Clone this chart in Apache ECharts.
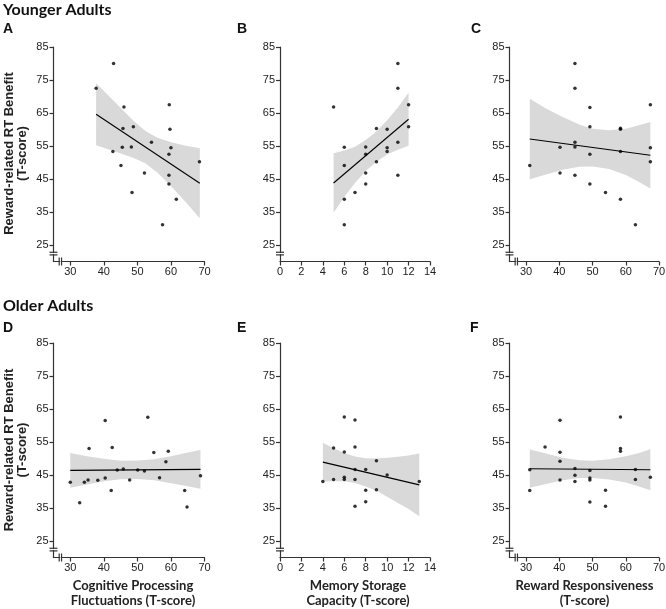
<!DOCTYPE html>
<html><head><meta charset="utf-8">
<script src="https://cdn.jsdelivr.net/npm/echarts@6/dist/echarts.min.js"></script>
<style>html,body{margin:0;padding:0;background:#fff}#c{width:666px;height:609px}</style>
</head><body><div id="c"></div>
<script>
// ---------- tick labels ----------
const yTicks = [25, 35, 45, 55, 65, 75, 85];
const tTicks = [30, 40, 50, 60, 70];
const mTicks = [0, 2, 4, 6, 8, 10, 12, 14];

// ---------- titles ----------
const groupTitles = ['Younger Adults', 'Older Adults'];
const panelLetters = ['A', 'B', 'C', 'D', 'E', 'F'];
const yTitle = 'Reward-related RT Benefit\n(T-score)';
const xTitles = ['Cognitive Processing\nFluctuations (T-score)', 'Memory Storage\nCapacity (T-score)', 'Reward Responsiveness\n(T-score)'];

// ---------- data: points [x, y] ----------
const ptsA = [[37.7,72.5],[42.9,80.0],[46.0,66.8],[45.7,60.3],[48.8,60.8],[42.7,53.3],[45.5,54.6],[48.2,54.7],[45.1,49.1],[48.4,40.9],[52.1,46.8],[54.2,56.1],[59.5,67.5],[59.7,60.1],[60.0,54.5],[59.4,52.5],[59.4,46.1],[59.4,43.5],[61.6,38.9],[57.5,31.1],[68.5,50.2]];
const ptsB = [[5,66.8],[6,54.6],[6,49.1],[6,38.9],[6,31.1],[7,40.9],[8,54.7],[8,52.5],[8,46.8],[8,43.5],[9,60.3],[9,50.2],[10,60.1],[10,54.5],[10,53.3],[11,80.0],[11,72.5],[11,56.1],[11,46.1],[12,67.5],[12,60.8]];
const ptsC = [[31.1,49.1],[40.2,54.6],[40.2,46.8],[44.7,80.0],[44.7,72.5],[44.7,56.1],[44.7,54.7],[44.7,46.1],[49.2,66.7],[49.2,60.8],[49.2,52.5],[49.2,43.5],[53.9,40.9],[58.4,60.4],[58.4,60.1],[58.4,53.3],[58.4,38.9],[62.9,31.1],[67.4,67.5],[67.4,54.5],[67.4,50.2]];
const ptsD = [[30.0,42.8],[32.8,36.6],[34.2,42.8],[35.3,43.5],[35.6,53.0],[38.2,43.4],[40.4,61.5],[40.4,44.1],[42.2,40.3],[42.5,53.3],[44.0,46.5],[45.8,46.8],[47.7,43.5],[50.1,46.5],[52.1,46.2],[53.1,62.5],[54.9,51.8],[56.6,44.2],[58.5,49.0],[59.2,52.2],[64.1,40.3],[64.8,35.3],[68.8,44.8]];
const ptsE = [[4,43.0],[5,53.2],[5,43.6],[6,62.6],[6,52.0],[6,44.3],[6,43.6],[7,61.7],[7,53.5],[7,46.7],[7,43.6],[7,35.5],[8,46.7],[8,40.4],[8,36.9],[9,49.3],[9,40.5],[10,45.0],[13,43.0]];
const ptsF = [[31.1,46.6],[31.1,40.3],[35.7,53.5],[40.2,61.6],[40.2,51.9],[40.2,49.2],[40.2,43.5],[44.7,47.0],[44.7,44.9],[44.7,43.0],[49.2,46.4],[49.2,44.1],[49.2,43.5],[49.2,36.8],[53.9,40.4],[53.9,35.5],[58.4,62.6],[58.4,53.0],[58.4,52.2],[62.9,46.7],[62.9,43.6],[67.4,44.3]];

// ---------- regression line end points ----------
const lineA = [[37.7,64.6],[68.6,43.7]];
const lineB = [[5,43.8],[12,63.1]];
const lineC = [[31.1,57.1],[67.4,52.2]];
const lineD = [[30,46.4],[68.8,46.7]];
const lineE = [[4,48.9],[13,42.0]];
const lineF = [[31.1,46.9],[67.4,46.6]];

// ---------- confidence bands [x, upper, lower] ----------
const bandA = [[37.7,74.0,55.2],[42.9,68.7,53.5],[48.9,62.6,51.4],[52.5,59.5,49.7],[56,57.5,46.9],[60,56.1,42.9],[64.8,55.0,37.6],[68.6,54.3,33.1]];
const bandB = [[5,52.8,34.8],[6,53.6,39.6],[7,54.8,43.8],[8,56.8,47.4],[9,59.4,50.2],[10,62.8,52.4],[11,66.7,53.9],[12,71.1,55.1]];
const bandC = [[31.1,69.3,44.9],[36,66.4,46.4],[41,63.8,47.8],[46,61.5,48.7],[50,60.2,48.8],[55,59.8,48.0],[60,60.2,46.2],[64,61.3,44.1],[67.4,62.3,42.1]];
const bandD = [[30,51.7,41.1],[35,50.7,42.1],[40,49.9,43.1],[45,49.3,43.7],[50,49.4,43.8],[55,49.8,43.4],[60,50.7,42.5],[65,51.8,41.6],[68.8,52.6,40.8]];
const bandE = [[4,54.8,43.0],[5,53.1,43.1],[6,51.7,43.1],[7,50.6,42.6],[8,50.1,41.5],[9,50.0,40.2],[10,50.2,38.4],[11,50.5,36.5],[12,50.9,34.7],[13,51.5,32.5]];
const bandF = [[31.1,52.7,41.1],[36,51.5,42.3],[41,50.2,43.4],[46,49.5,44.1],[50,49.3,44.1],[55,49.8,43.6],[60,50.7,42.7],[64,51.7,41.5],[67.4,52.8,40.4]];

const points = [ptsA, ptsB, ptsC, ptsD, ptsE, ptsF];
const lines = [lineA, lineB, lineC, lineD, lineE, lineF];
const bands = [bandA, bandB, bandC, bandD, bandE, bandF];

// ---------- layout ----------
const gridLefts = [53.5, 280, 509.5];
const gridWidths = [151, 150, 149.5];
const gridTops = [47, 343];
const gridH = 214.5;
const isT = [true, false, true];  // T-score x axis (25..70) vs memory (0..14)

const AX = '#333';
const chart = echarts.init(document.getElementById('c'), null, {renderer: 'canvas'});

const grids = [], xAxes = [], yAxes = [], series = [];
for (let r = 0; r < 2; r++) {
  for (let c = 0; c < 3; c++) {
    const i = r * 3 + c;
    grids.push({left: gridLefts[c], top: gridTops[r], width: gridWidths[c], height: gridH, outerBoundsMode: 'none', containLabel: false});
    const ticks = isT[c] ? tTicks : mTicks;
    xAxes.push({
      gridIndex: i, type: 'value', min: isT[c] ? 25 : 0, max: isT[c] ? 70 : 14,
      axisLine: {show: true, onZero: false, lineStyle: {color: AX, width: 1.2}},
      axisTick: {show: true, length: 4, customValues: ticks, lineStyle: {color: AX, width: 1.2}},
      axisLabel: {customValues: ticks, fontSize: 11, color: '#222', margin: 5, fontFamily: 'Liberation Sans'},
      splitLine: {show: false}
    });
    yAxes.push({
      gridIndex: i, type: 'value', min: 20, max: 85,
      axisLine: {show: true, onZero: false, lineStyle: {color: AX, width: 1.2}},
      axisTick: {show: true, length: 4, customValues: yTicks, lineStyle: {color: AX, width: 1.2}},
      axisLabel: {customValues: yTicks, fontSize: 11, color: '#222', margin: 5, fontFamily: 'Liberation Sans'},
      splitLine: {show: false}
    });
    const band = bands[i];
    series.push({
      type: 'custom', xAxisIndex: i, yAxisIndex: i, data: band, z: 1, silent: true,
      encode: {x: 0, y: [1, 2]},
      renderItem: function (params, api) {
        if (params.dataIndex !== 0) return null;
        const up = band.map(p => api.coord([p[0], p[1]]));
        const lo = band.slice().reverse().map(p => api.coord([p[0], p[2]]));
        return {type: 'polygon', shape: {points: up.concat(lo)}, style: {fill: '#d9d9d9', stroke: null}};
      }
    });
    series.push({
      type: 'line', xAxisIndex: i, yAxisIndex: i, data: lines[i], z: 3, silent: true,
      showSymbol: false, symbol: 'none', lineStyle: {color: '#000', width: 1.1}
    });
    series.push({
      type: 'scatter', xAxisIndex: i, yAxisIndex: i, data: points[i], z: 4, silent: true,
      symbolSize: 3.5, itemStyle: {color: '#000'}
    });
  }
}

const graphics = [];
const TF = 'Lato';
graphics.push({type: 'text', left: 3, top: 2, style: {text: groupTitles[0], font: 'bold 16px ' + TF, fill: '#111'}});
graphics.push({type: 'text', left: 3, top: 298, style: {text: groupTitles[1], font: 'bold 16px ' + TF, fill: '#111'}});
const letterPos = [[3, 22], [237, 22], [471, 22], [3, 321], [237, 321], [470, 321]];
panelLetters.forEach((L, k) => {
  graphics.push({type: 'text', x: letterPos[k][0], y: letterPos[k][1], style: {text: L, font: 'bold 14px "Liberation Sans"', fill: '#111'}});
});
[153.5, 450].forEach(cy => {
  graphics.push({type: 'text', x: 16, y: cy, rotation: Math.PI / 2,
    style: {text: yTitle, font: 'bold 13px "Liberation Sans"', fill: '#222', align: 'center', verticalAlign: 'middle', lineHeight: 13}});
});
const xtCenters = [133, 358, 584.5];
xTitles.forEach((t, c) => {
  graphics.push({type: 'text', x: xtCenters[c], y: 593, style: {text: t, font: 'bold 13px ' + TF, fill: '#222', align: 'center', verticalAlign: 'middle', lineHeight: 15}});
});

chart.setOption({animation: false, backgroundColor: '#fff', grid: grids, xAxis: xAxes, yAxis: yAxes, series: series, graphic: graphics});

// axis break marks
const breaks = [];
for (let i = 0; i < 6; i++) {
  const c = i % 3;
  const xmin = isT[c] ? 25 : 0;
  const p1 = chart.convertToPixel({gridIndex: i}, [xmin, 22.8]);
  const p2 = chart.convertToPixel({gridIndex: i}, [xmin, 22.0]);
  breaks.push({type: 'rect', shape: {x: p1[0] - 3, y: p1[1] + 0.8, width: 6, height: p2[1] - p1[1] - 1.6}, style: {fill: '#fff'}, z: 100});
  breaks.push({type: 'line', shape: {x1: p1[0] - 4, y1: p1[1], x2: p1[0] + 4, y2: p1[1]}, style: {stroke: AX, lineWidth: 1.2}, z: 101});
  breaks.push({type: 'line', shape: {x1: p2[0] - 4, y1: p2[1], x2: p2[0] + 4, y2: p2[1]}, style: {stroke: AX, lineWidth: 1.2}, z: 101});
  if (isT[c]) {
    const q1 = chart.convertToPixel({gridIndex: i}, [26.7, 20]);
    const q2 = chart.convertToPixel({gridIndex: i}, [27.4, 20]);
    breaks.push({type: 'rect', shape: {x: q1[0] + 0.8, y: q1[1] - 3, width: q2[0] - q1[0] - 1.6, height: 6}, style: {fill: '#fff'}, z: 100});
    breaks.push({type: 'line', shape: {x1: q1[0], y1: q1[1] - 4, x2: q1[0], y2: q1[1] + 4}, style: {stroke: AX, lineWidth: 1.2}, z: 101});
    breaks.push({type: 'line', shape: {x1: q2[0], y1: q2[1] - 4, x2: q2[0], y2: q2[1] + 4}, style: {stroke: AX, lineWidth: 1.2}, z: 101});
  }
}
chart.setOption({graphic: graphics.concat(breaks)});
</script>
</body></html>
